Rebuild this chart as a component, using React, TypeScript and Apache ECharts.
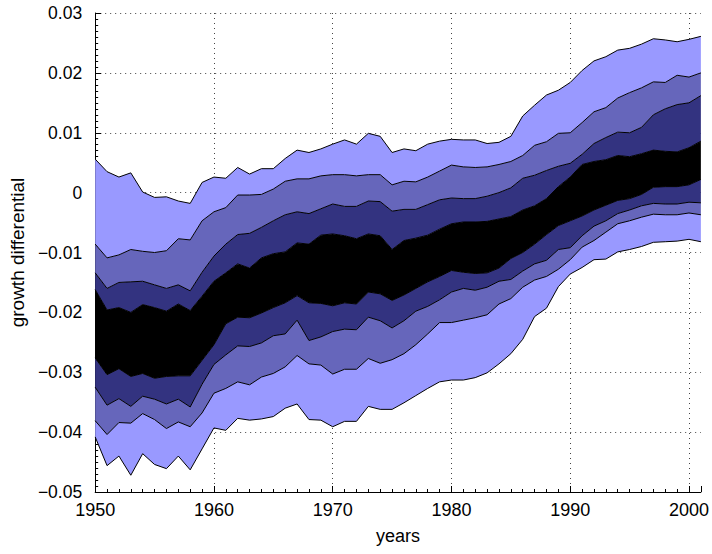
import React, { useEffect, useRef } from "react";
import * as echarts from "echarts";

const years = [
  1950, 1951, 1952, 1953, 1954, 1955, 1956, 1957, 1958, 1959,
  1960, 1961, 1962, 1963, 1964, 1965, 1966, 1967, 1968, 1969,
  1970, 1971, 1972, 1973, 1974, 1975, 1976, 1977, 1978, 1979,
  1980, 1981, 1982, 1983, 1984, 1985, 1986, 1987, 1988, 1989,
  1990, 1991, 1992, 1993, 1994, 1995, 1996, 1997, 1998, 1999,
  2000, 2001,
];

const upper3 = [
  0.0056, 0.0035, 0.0026, 0.0033, 0.0001, -0.0008, -0.0007, -0.0014, -0.0018, 0.0017,
  0.0026, 0.0024, 0.0042, 0.0031, 0.0040, 0.0040, 0.0057, 0.0071, 0.0067, 0.0073,
  0.0081, 0.0088, 0.0081, 0.0099, 0.0094, 0.0067, 0.0073, 0.0070, 0.0081, 0.0086,
  0.0089, 0.0088, 0.0088, 0.0082, 0.0084, 0.0094, 0.0128, 0.0146, 0.0163, 0.0171,
  0.0184, 0.0204, 0.0220, 0.0227, 0.0238, 0.0241, 0.0248, 0.0257, 0.0255, 0.0252,
  0.0256, 0.0261,
];
const upper2 = [
  -0.0086, -0.0109, -0.0104, -0.0095, -0.0098, -0.0100, -0.0097, -0.0077, -0.0079, -0.0047,
  -0.0032, -0.0025, -0.0004, -0.0004, -0.0003, 0.0006, 0.0019, 0.0023, 0.0023, 0.0028,
  0.0030, 0.0030, 0.0028, 0.0030, 0.0030, 0.0013, 0.0019, 0.0018, 0.0026, 0.0036,
  0.0046, 0.0043, 0.0042, 0.0043, 0.0047, 0.0052, 0.0062, 0.0079, 0.0085, 0.0099,
  0.0100, 0.0117, 0.0135, 0.0142, 0.0158, 0.0167, 0.0175, 0.0185, 0.0184, 0.0196,
  0.0193, 0.0200,
];
const upper1 = [
  -0.0134, -0.0160, -0.0150, -0.0149, -0.0148, -0.0154, -0.0160, -0.0154, -0.0164, -0.0133,
  -0.0106, -0.0086, -0.0070, -0.0068, -0.0058, -0.0047, -0.0037, -0.0032, -0.0035, -0.0027,
  -0.0019, -0.0023, -0.0023, -0.0014, -0.0015, -0.0031, -0.0028, -0.0028, -0.0020, -0.0012,
  -0.0009, -0.0010, -0.0010, -0.0006, 0.0000, 0.0008, 0.0024, 0.0029, 0.0037, 0.0044,
  0.0049, 0.0064, 0.0082, 0.0092, 0.0101, 0.0100, 0.0109, 0.0130, 0.0140, 0.0147,
  0.0150, 0.0162,
];
const upper0 = [
  -0.0162, -0.0196, -0.0192, -0.0200, -0.0187, -0.0192, -0.0198, -0.0186, -0.0197, -0.0173,
  -0.0148, -0.0134, -0.0119, -0.0126, -0.0109, -0.0102, -0.0099, -0.0084, -0.0086, -0.0071,
  -0.0069, -0.0072, -0.0077, -0.0069, -0.0072, -0.0095, -0.0080, -0.0076, -0.0071, -0.0061,
  -0.0052, -0.0049, -0.0049, -0.0048, -0.0044, -0.0040, -0.0029, -0.0022, -0.0010, 0.0010,
  0.0026, 0.0047, 0.0052, 0.0055, 0.0062, 0.0060, 0.0065, 0.0071, 0.0069, 0.0068,
  0.0075, 0.0086,
];
const lower0 = [
  -0.0276, -0.0304, -0.0294, -0.0307, -0.0302, -0.0310, -0.0307, -0.0306, -0.0306, -0.0280,
  -0.0254, -0.0219, -0.0208, -0.0209, -0.0201, -0.0192, -0.0184, -0.0172, -0.0184, -0.0185,
  -0.0189, -0.0184, -0.0186, -0.0166, -0.0169, -0.0180, -0.0171, -0.0160, -0.0149, -0.0140,
  -0.0130, -0.0133, -0.0135, -0.0134, -0.0126, -0.0110, -0.0100, -0.0086, -0.0070, -0.0055,
  -0.0047, -0.0039, -0.0029, -0.0021, -0.0013, -0.0010, -0.0003, 0.0009, 0.0010, 0.0010,
  0.0013, 0.0022,
];
const lower1 = [
  -0.0325, -0.0355, -0.0344, -0.0357, -0.0340, -0.0345, -0.0353, -0.0345, -0.0358, -0.0320,
  -0.0287, -0.0271, -0.0256, -0.0257, -0.0251, -0.0239, -0.0236, -0.0213, -0.0247, -0.0241,
  -0.0232, -0.0228, -0.0229, -0.0208, -0.0214, -0.0226, -0.0214, -0.0198, -0.0190, -0.0179,
  -0.0166, -0.0160, -0.0163, -0.0158, -0.0148, -0.0145, -0.0131, -0.0119, -0.0113, -0.0095,
  -0.0092, -0.0072, -0.0056, -0.0047, -0.0035, -0.0029, -0.0022, -0.0018, -0.0019, -0.0019,
  -0.0016, -0.0017,
];
const lower2 = [
  -0.0381, -0.0404, -0.0384, -0.0385, -0.0369, -0.0379, -0.0394, -0.0383, -0.0391, -0.0368,
  -0.0335, -0.0327, -0.0316, -0.0321, -0.0308, -0.0302, -0.0291, -0.0272, -0.0286, -0.0288,
  -0.0303, -0.0295, -0.0295, -0.0277, -0.0285, -0.0279, -0.0269, -0.0254, -0.0236, -0.0217,
  -0.0217, -0.0213, -0.0209, -0.0204, -0.0186, -0.0177, -0.0158, -0.0146, -0.0140, -0.0128,
  -0.0112, -0.0091, -0.0080, -0.0066, -0.0052, -0.0047, -0.0041, -0.0036, -0.0037, -0.0037,
  -0.0034, -0.0037,
];
const lower3 = [
  -0.0408, -0.0456, -0.0440, -0.0472, -0.0436, -0.0454, -0.0461, -0.0440, -0.0463, -0.0428,
  -0.0393, -0.0397, -0.0377, -0.0380, -0.0378, -0.0374, -0.0360, -0.0353, -0.0379, -0.0380,
  -0.0391, -0.0382, -0.0382, -0.0357, -0.0362, -0.0362, -0.0351, -0.0339, -0.0327, -0.0316,
  -0.0313, -0.0313, -0.0309, -0.0301, -0.0286, -0.0269, -0.0245, -0.0207, -0.0193, -0.0157,
  -0.0136, -0.0125, -0.0112, -0.0111, -0.0099, -0.0095, -0.0090, -0.0083, -0.0082, -0.0081,
  -0.0078, -0.0082,
];

const boundaries = [lower3, lower2, lower1, lower0, upper0, upper1, upper2, upper3];
const bandColors = ["#9999ff", "#6666bb", "#333380", "#000000", "#333380", "#6666bb", "#9999ff"];

const FONT = "'Liberation Sans', Arial, Helvetica, sans-serif";

export default function App() {
  const ref = useRef<HTMLDivElement>(null);
  useEffect(() => {
    if (!ref.current) return;
    const chart = echarts.init(ref.current, undefined, { renderer: "svg" });

    const lineStyle = { color: "#000", width: 1 };
    const series: any[] = [
      {
        type: "line",
        stack: "fan",
        stackStrategy: "all",
        xAxisIndex: 0,
        symbol: "none",
        lineStyle,
        data: lower3.slice(),
        z: 2,
      },
    ];
    for (let b = 0; b < bandColors.length; b++) {
      const lo = boundaries[b];
      const hi = boundaries[b + 1];
      series.push({
        type: "line",
        stack: "fan",
        stackStrategy: "all",
        xAxisIndex: 0,
        symbol: "none",
        lineStyle,
        areaStyle: { color: bandColors[b], opacity: 1 },
        data: years.map((_, i) => Math.round((hi[i] - lo[i]) * 1e6) / 1e6),
        z: 2,
      });
    }

    const fmtY = (v: number) => {
      if (Math.abs(v) < 1e-9) return "0";
      return (v < 0 ? "\u2212" : "") + Math.abs(v).toFixed(2);
    };

    chart.setOption({
      animation: false,
      textStyle: { fontFamily: FONT },
      grid: { left: 94, right: 10, top: 13, bottom: 62 },
      xAxis: [
        {
          type: "category",
          data: years.map(String),
          boundaryGap: false,
          position: "bottom",
          axisLine: { show: false, onZero: false },
          axisTick: { show: true, inside: true, length: 3, interval: 0, lineStyle: { color: "#000" } },
          axisLabel: { show: false },
          splitLine: { show: false },
          z: 5,
        },
        {
          type: "value",
          position: "bottom",
          min: 1950,
          max: 2001,
          interval: 10,
          axisLine: { show: true, onZero: false, lineStyle: { color: "#000", width: 1 } },
          axisTick: { show: true, inside: true, length: 6, lineStyle: { color: "#000" } },
          axisLabel: {
            formatter: (v: number) => (v % 10 === 0 ? String(v) : ""),
            fontSize: 18,
            color: "#000",
            fontFamily: FONT,
            margin: 9,
          },
          splitLine: {
            show: true,
            showMaxLine: false,
            lineStyle: { type: [1, 4], color: "#444", width: 1 },
          },
          name: "years",
          nameLocation: "middle",
          nameGap: 35,
          nameTextStyle: { fontSize: 18, color: "#000", fontFamily: FONT },
        },
      ],
      yAxis: {
        type: "value",
        min: -0.05,
        max: 0.03,
        interval: 0.01,
        axisLine: { show: true, onZero: false, lineStyle: { color: "#000", width: 1 } },
        axisTick: { show: true, inside: true, length: 6, lineStyle: { color: "#000" } },
        minorTick: { show: true, splitNumber: 10, length: 3, lineStyle: { color: "#000" } },
        axisLabel: {
          formatter: fmtY,
          fontSize: 17.5,
          color: "#000",
          fontFamily: FONT,
          margin: 13,
        },
        splitLine: {
          show: true,
          lineStyle: { type: [1, 4], color: "#444", width: 1 },
        },
        name: "growth differential",
        nameLocation: "middle",
        nameGap: 64,
        nameTextStyle: { fontSize: 19, color: "#000", fontFamily: FONT },
      },
      series,
    });
    return () => chart.dispose();
  }, []);
  return (
    <div
      ref={ref}
      style={{ position: "fixed", left: 0, top: 0, width: 712, height: 554, background: "#fff" }}
    />
  );
}
